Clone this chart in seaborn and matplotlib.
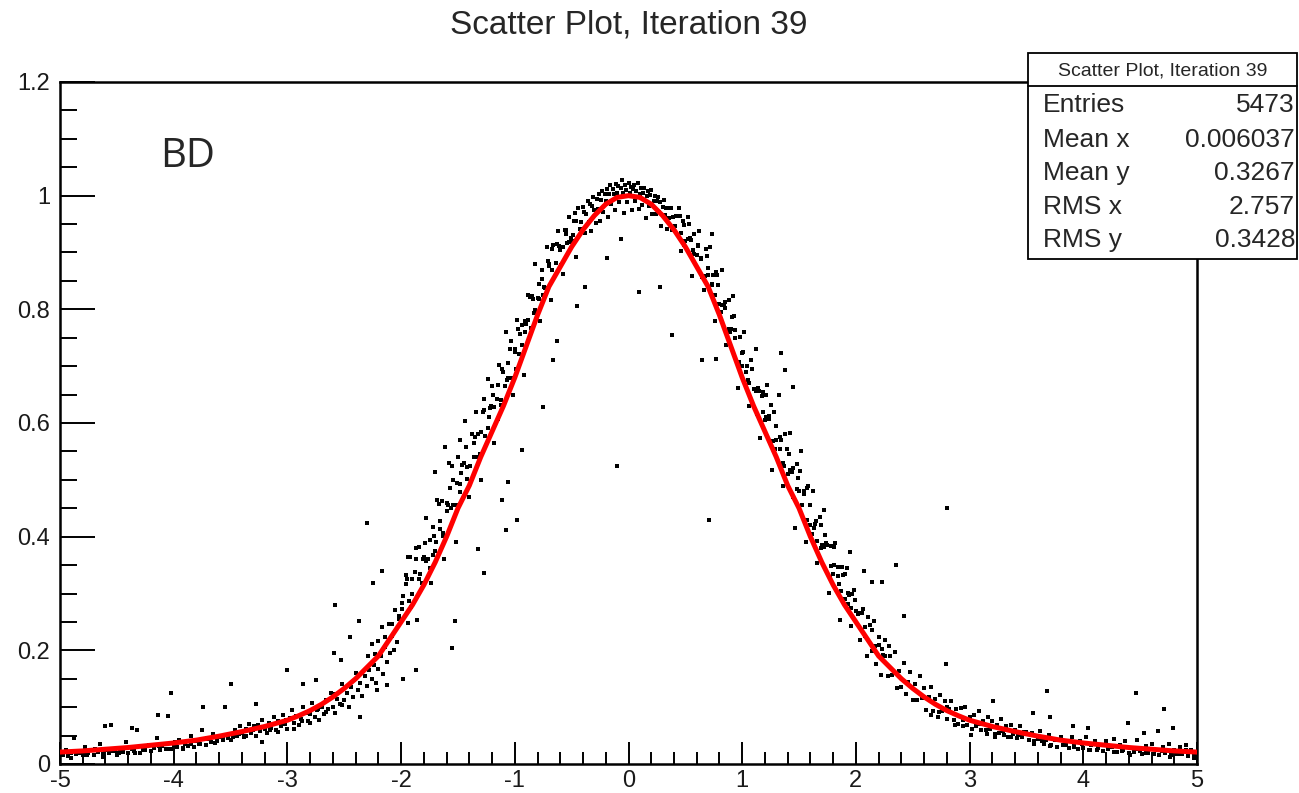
import matplotlib
matplotlib.use("Agg")
import numpy as np
import pandas as pd
import matplotlib.pyplot as plt
import seaborn as sns
from matplotlib.patches import Rectangle
from matplotlib.lines import Line2D
from matplotlib.ticker import MultipleLocator, FuncFormatter

# ---- text ----
title = "Scatter Plot, Iteration 39"
stats_labels = ["Entries", "Mean x", "Mean y", "RMS x", "RMS y"]
stats_values = ["5473", "0.006037", "0.3267", "2.757", "0.3428"]
corner_label = "BD"

# ---- red fitted curve ----
curve_x = [-5.0, -4.8, -4.6, -4.4, -4.2, -4.0, -3.8, -3.6, -3.4, -3.2, -3.0,
           -2.9, -2.8, -2.7, -2.6, -2.5, -2.4, -2.3, -2.2, -2.1, -2.0,
           -1.9, -1.8, -1.7, -1.6, -1.5, -1.4, -1.3, -1.2, -1.1, -1.0,
           -0.9, -0.8, -0.7, -0.6, -0.5, -0.4, -0.3, -0.2, -0.1, 0.0,
           0.1, 0.2, 0.3, 0.4, 0.5, 0.6, 0.7, 0.8, 0.9, 1.0,
           1.1, 1.2, 1.3, 1.4, 1.5, 1.6, 1.7, 1.8, 1.9, 2.0,
           2.1, 2.2, 2.3, 2.4, 2.5, 2.6, 2.7, 2.8, 2.9, 3.0,
           3.2, 3.4, 3.6, 3.8, 4.0, 4.2, 4.4, 4.6, 4.8, 5.0]
curve_y = [0.021, 0.023, 0.026, 0.029, 0.033, 0.037, 0.042, 0.049, 0.057, 0.066, 0.077,
           0.085, 0.094, 0.105, 0.118, 0.133, 0.150, 0.170, 0.190, 0.220, 0.250,
           0.280, 0.315, 0.355, 0.400, 0.450, 0.490, 0.540, 0.585, 0.630, 0.680,
           0.735, 0.790, 0.840, 0.875, 0.910, 0.940, 0.965, 0.985, 0.997, 1.000,
           0.997, 0.985, 0.965, 0.940, 0.910, 0.875, 0.840, 0.790, 0.735, 0.680,
           0.630, 0.585, 0.540, 0.490, 0.450, 0.400, 0.355, 0.315, 0.280, 0.250,
           0.220, 0.190, 0.170, 0.150, 0.133, 0.118, 0.105, 0.094, 0.085, 0.077,
           0.066, 0.057, 0.049, 0.042, 0.037, 0.033, 0.029, 0.026, 0.023, 0.021]

# ---- scatter points, estimated region by region ----
tail_left_x = [-4.98, -4.95, -4.93, -4.90, -4.88, -4.86, -4.83, -4.80, -4.78, -4.75,
               -4.72, -4.70, -4.67, -4.65, -4.62, -4.60, -4.57, -4.55, -4.52, -4.50,
               -4.47, -4.45, -4.42, -4.40, -4.37, -4.35, -4.32, -4.30, -4.27, -4.25,
               -4.22, -4.20, -4.17, -4.15, -4.12, -4.10, -4.07, -4.05, -4.02, -4.00,
               -3.97, -3.95, -3.92, -3.90, -3.87, -3.85, -3.82, -3.80, -3.77, -3.75,
               -3.72, -3.70, -3.67, -3.65, -3.62, -3.60, -3.57, -3.55, -3.52,
               -4.97, -4.90, -4.83, -4.76, -4.69, -4.62, -4.55, -4.48, -4.41, -4.34,
               -4.27, -4.20, -4.13, -4.06, -3.99, -3.92, -3.85, -3.78, -3.71, -3.64,
               -3.57, -3.50, -3.43, -3.36, -3.29, -3.22, -3.15, -3.08, -3.01, -2.94,
               -2.87, -2.80, -2.73, -2.66, -2.59, -2.52]
tail_left_y = [0.018, 0.024, 0.014, 0.020, 0.045, 0.017, 0.022, 0.015, 0.030, 0.019,
               0.024, 0.016, 0.021, 0.035, 0.018, 0.025, 0.020, 0.068, 0.022, 0.016,
               0.027, 0.021, 0.038, 0.019, 0.026, 0.023, 0.060, 0.020, 0.029, 0.025,
               0.033, 0.022, 0.028, 0.045, 0.024, 0.031, 0.027, 0.085, 0.026, 0.034,
               0.030, 0.042, 0.028, 0.036, 0.032, 0.050, 0.030, 0.040, 0.035, 0.060,
               0.033, 0.044, 0.038, 0.052, 0.040, 0.048, 0.042, 0.100, 0.045,
               0.015, 0.011, 0.020, 0.015, 0.027, 0.013, 0.022, 0.020, 0.029, 0.020,
               0.025, 0.022, 0.031, 0.027, 0.039, 0.026, 0.036, 0.035, 0.045, 0.037,
               0.044, 0.042, 0.053, 0.050, 0.066, 0.039, 0.059, 0.057, 0.077, 0.061,
               0.076, 0.072, 0.096, 0.092, 0.124, 0.104]

low_left_x = [-3.48, -3.46, -3.44, -3.42, -3.40, -3.38, -3.36, -3.34, -3.32, -3.30,
              -3.28, -3.26, -3.24, -3.22, -3.20, -3.18, -3.16, -3.14, -3.12, -3.10,
              -3.08, -3.06, -3.04, -3.02, -3.00, -2.98, -2.96, -2.94, -2.92, -2.90,
              -2.88, -2.86, -2.84, -2.82, -2.80, -2.78, -2.76, -2.74, -2.72, -2.70,
              -2.68, -2.66, -2.64, -2.62, -2.60, -2.58, -2.56, -2.54, -2.52, -2.50,
              -2.48, -2.46, -2.44, -2.42, -2.40, -2.38, -2.36, -2.34, -2.32, -2.30,
              -2.28, -2.26, -2.24, -2.22, -2.20, -2.18, -2.16, -2.14, -2.12, -2.10,
              -2.08, -2.06, -2.04, -2.02]
low_left_y = [0.048, 0.060, 0.050, 0.066, 0.055, 0.047, 0.062, 0.071, 0.054, 0.060,
              0.050, 0.069, 0.058, 0.078, 0.062, 0.055, 0.072, 0.064, 0.083, 0.060,
              0.076, 0.066, 0.087, 0.070, 0.062, 0.081, 0.095, 0.072, 0.084, 0.068,
              0.079, 0.100, 0.090, 0.075, 0.088, 0.108, 0.083, 0.095, 0.078, 0.100,
              0.088, 0.112, 0.097, 0.125, 0.100, 0.090, 0.115, 0.105, 0.140, 0.112,
              0.125, 0.100, 0.135, 0.118, 0.160, 0.130, 0.142, 0.120, 0.155, 0.138,
              0.165, 0.150, 0.175, 0.142, 0.168, 0.190, 0.158, 0.205, 0.180, 0.195,
              0.225, 0.200, 0.215, 0.260]

up_left_x = [-1.98, -1.96, -1.94, -1.92, -1.90, -1.88, -1.86, -1.84, -1.82, -1.80,
             -1.78, -1.76, -1.74, -1.72, -1.70, -1.68, -1.66, -1.64, -1.62, -1.60,
             -1.58, -1.56, -1.54, -1.52, -1.50, -1.48, -1.46, -1.44, -1.42, -1.40,
             -1.38, -1.36, -1.34, -1.32, -1.30, -1.28, -1.26, -1.24, -1.22, -1.20,
             -1.18, -1.16, -1.14, -1.12, -1.10, -1.08, -1.06, -1.04, -1.02, -1.00,
             -0.98, -0.96, -0.94, -0.92, -0.90, -0.88, -0.86, -0.84, -0.82, -0.80,
             -0.78, -0.76, -0.74, -0.72, -0.70, -0.68, -0.66, -0.64, -0.62, -0.60,
             -0.58, -0.56, -0.54, -0.52, -0.50, -0.48, -0.46, -0.44, -0.42, -0.40,
             -1.99, -1.95, -1.91, -1.87, -1.83, -1.79, -1.75, -1.71, -1.67, -1.63,
             -1.59, -1.55, -1.51, -1.47, -1.43, -1.39, -1.35, -1.31, -1.27, -1.23,
             -1.19, -1.15, -1.11, -1.07, -1.03, -0.99, -0.95, -0.91, -0.87, -0.83,
             -0.79, -0.75, -0.71, -0.67, -0.63, -0.59, -0.55, -0.51, -0.47, -0.43]
up_left_y = [0.296, 0.332, 0.248, 0.364, 0.300, 0.337, 0.254, 0.381, 0.318, 0.365,
             0.433, 0.361, 0.319, 0.417, 0.375, 0.464, 0.413, 0.462, 0.361, 0.460,
             0.530, 0.450, 0.500, 0.390, 0.540, 0.478, 0.526, 0.604, 0.522, 0.470,
             0.580, 0.540, 0.620, 0.580, 0.500, 0.619, 0.578, 0.677, 0.626, 0.665,
             0.564, 0.643, 0.702, 0.631, 0.690, 0.760, 0.680, 0.730, 0.650, 0.730,
             0.781, 0.722, 0.773, 0.684, 0.775, 0.826, 0.767, 0.818, 0.879, 0.820,
             0.780, 0.870, 0.840, 0.910, 0.880, 0.817, 0.914, 0.881, 0.938, 0.905,
             0.862, 0.939, 0.916, 0.963, 0.920, 0.956, 0.892, 0.978, 0.954, 0.980,
             0.273, 0.325, 0.277, 0.380, 0.335, 0.389, 0.345, 0.401, 0.458, 0.406,
             0.455, 0.525, 0.455, 0.512, 0.558, 0.525, 0.575, 0.545, 0.643, 0.611,
             0.649, 0.607, 0.695, 0.675, 0.745, 0.695, 0.757, 0.760, 0.821, 0.793,
             0.845, 0.825, 0.885, 0.870, 0.915, 0.878, 0.932, 0.926, 0.969, 0.941]

outer_left_x = [-2.29, -2.26, -2.23, -2.20, -2.17, -2.14, -2.11, -2.08, -2.05, -2.02,
                -1.99, -1.96, -1.93, -1.90, -1.87, -1.84, -1.81, -1.78, -1.75, -1.72,
                -1.69, -1.66, -1.63, -1.60, -1.57, -1.54, -1.51, -1.48, -1.45, -1.42,
                -1.39, -1.36, -1.33, -1.30, -1.27, -1.24, -1.21, -1.18, -1.15, -1.12,
                -1.09, -1.06, -1.03, -1.00, -0.97, -0.94, -0.91, -0.88, -0.85, -0.82,
                -0.79, -0.76, -0.73, -0.70, -0.67, -0.64, -0.61, -0.58, -0.55, -0.52,
                -0.49, -0.46]
outer_left_y = [0.190, 0.211, 0.193, 0.217, 0.241, 0.223, 0.247, 0.247, 0.271, 0.256,
                0.283, 0.317, 0.286, 0.325, 0.360, 0.326, 0.361, 0.358, 0.395, 0.367,
                0.390, 0.428, 0.401, 0.445, 0.485, 0.455, 0.495, 0.493, 0.530, 0.502,
                0.525, 0.565, 0.540, 0.585, 0.623, 0.592, 0.630, 0.629, 0.667, 0.641,
                0.665, 0.705, 0.680, 0.725, 0.766, 0.738, 0.780, 0.781, 0.823, 0.799,
                0.819, 0.854, 0.837, 0.876, 0.906, 0.881, 0.911, 0.910, 0.940, 0.919,
                0.931, 0.955]

peak_x = [-0.39, -0.38, -0.37, -0.36, -0.35, -0.34, -0.33, -0.32, -0.31, -0.30,
          -0.29, -0.28, -0.27, -0.26, -0.25, -0.24, -0.23, -0.22, -0.21, -0.20,
          -0.19, -0.18, -0.17, -0.16, -0.15, -0.14, -0.13, -0.12, -0.11, -0.10,
          -0.09, -0.08, -0.07, -0.06, -0.05, -0.04, -0.03, -0.02, -0.01, 0.00,
          0.01, 0.02, 0.03, 0.04, 0.05, 0.06, 0.07, 0.08, 0.09, 0.10,
          0.11, 0.12, 0.13, 0.14, 0.15, 0.16, 0.17, 0.18, 0.19, 0.20,
          0.21, 0.22, 0.23, 0.24, 0.25, 0.26, 0.27, 0.28, 0.29, 0.30,
          0.31, 0.32, 0.33, 0.34, 0.35, 0.36, 0.37, 0.38, 0.39]
peak_y = [0.972, 0.935, 0.968, 0.991, 0.953, 0.986, 0.938, 0.981, 0.998, 0.975,
          0.952, 0.994, 0.976, 1.003, 0.955, 0.992, 1.009, 0.971, 1.003, 0.990,
          1.011, 0.962, 1.003, 1.019, 0.985, 1.012, 1.003, 0.974, 1.020, 1.005,
          1.017, 0.988, 1.013, 1.027, 1.004, 0.970, 1.018, 1.010, 0.988, 1.022,
          1.005, 1.015, 0.975, 1.012, 1.019, 0.991, 1.008, 1.023, 0.977, 1.003,
          1.013, 0.984, 1.005, 1.014, 0.960, 0.999, 1.008, 0.982, 1.001, 1.010,
          0.968, 0.991, 0.999, 0.967, 0.990, 0.998, 0.971, 0.989, 0.947, 0.980,
          0.993, 0.966, 0.978, 0.941, 0.978, 0.961, 0.978, 0.940, 0.962]

up_right_x = [0.42, 0.44, 0.46, 0.48, 0.50, 0.52, 0.54, 0.56, 0.58, 0.60,
              0.62, 0.64, 0.66, 0.68, 0.70, 0.72, 0.74, 0.76, 0.78, 0.80,
              0.82, 0.84, 0.86, 0.88, 0.90, 0.92, 0.94, 0.96, 0.98, 1.00,
              1.02, 1.04, 1.06, 1.08, 1.10, 1.12, 1.14, 1.16, 1.18, 1.20,
              1.22, 1.24, 1.26, 1.28, 1.30, 1.32, 1.34, 1.36, 1.38, 1.40,
              1.42, 1.44, 1.46, 1.48, 1.50, 1.52, 1.54, 1.56, 1.58, 1.60,
              1.62, 1.64, 1.66, 1.68, 1.70, 1.72, 1.74, 1.76, 1.78, 1.80,
              1.82, 1.84, 1.86, 1.88, 1.90, 1.92, 1.94, 1.96, 1.98, 2.00,
              0.41, 0.45, 0.49, 0.53, 0.57, 0.61, 0.65, 0.69, 0.73, 0.77,
              0.81, 0.85, 0.89, 0.93, 0.97, 1.01, 1.05, 1.09, 1.13, 1.17,
              1.21, 1.25, 1.29, 1.33, 1.37, 1.41, 1.45, 1.49, 1.53, 1.57,
              1.61, 1.65, 1.69, 1.73, 1.77, 1.81, 1.85, 1.89, 1.93, 1.97]
up_right_y = [0.964, 0.978, 0.902, 0.956, 0.920, 0.963, 0.926, 0.859, 0.932, 0.895,
              0.938, 0.891, 0.834, 0.907, 0.860, 0.910, 0.860, 0.780, 0.860, 0.810,
              0.869, 0.808, 0.737, 0.816, 0.765, 0.824, 0.763, 0.662, 0.751, 0.700,
              0.760, 0.700, 0.630, 0.710, 0.660, 0.731, 0.662, 0.573, 0.654, 0.605,
              0.666, 0.607, 0.518, 0.619, 0.570, 0.650, 0.570, 0.490, 0.580, 0.510,
              0.582, 0.514, 0.416, 0.528, 0.480, 0.550, 0.480, 0.390, 0.490, 0.420,
              0.481, 0.422, 0.353, 0.434, 0.385, 0.447, 0.389, 0.301, 0.383, 0.335,
              0.388, 0.331, 0.254, 0.347, 0.290, 0.344, 0.298, 0.242, 0.306, 0.270,
              0.947, 0.965, 0.913, 0.950, 0.905, 0.911, 0.857, 0.893, 0.845, 0.865,
              0.795, 0.813, 0.760, 0.788, 0.706, 0.725, 0.675, 0.695, 0.616, 0.648,
              0.610, 0.632, 0.554, 0.575, 0.525, 0.546, 0.470, 0.504, 0.455, 0.485,
              0.405, 0.427, 0.380, 0.403, 0.327, 0.351, 0.317, 0.333, 0.281, 0.299]

outer_right_x = [0.46, 0.49, 0.52, 0.55, 0.58, 0.61, 0.64, 0.67, 0.70, 0.73,
                 0.76, 0.79, 0.82, 0.85, 0.88, 0.91, 0.94, 0.97, 1.00, 1.03,
                 1.06, 1.09, 1.12, 1.15, 1.18, 1.21, 1.24, 1.27, 1.30, 1.33,
                 1.36, 1.39, 1.42, 1.45, 1.48, 1.51, 1.54, 1.57, 1.60, 1.63,
                 1.66, 1.69, 1.72, 1.75, 1.78, 1.81, 1.84, 1.87, 1.90, 1.93,
                 1.96, 1.99, 2.02, 2.05, 2.08, 2.11, 2.14, 2.17, 2.20, 2.23,
                 2.26, 2.29]
outer_right_y = [0.934, 0.949, 0.924, 0.922, 0.897, 0.913, 0.888, 0.859, 0.873, 0.843,
                 0.826, 0.843, 0.807, 0.803, 0.766, 0.786, 0.749, 0.708, 0.724, 0.689,
                 0.670, 0.695, 0.656, 0.657, 0.619, 0.650, 0.612, 0.568, 0.595, 0.555,
                 0.530, 0.555, 0.517, 0.520, 0.483, 0.515, 0.475, 0.430, 0.455, 0.416,
                 0.393, 0.420, 0.382, 0.385, 0.348, 0.381, 0.346, 0.305, 0.335, 0.301,
                 0.274, 0.289, 0.265, 0.265, 0.241, 0.259, 0.235, 0.208, 0.223, 0.202,
                 0.190, 0.208]

low_right_x = [2.02, 2.04, 2.06, 2.08, 2.10, 2.12, 2.14, 2.16, 2.18, 2.20,
               2.22, 2.24, 2.26, 2.28, 2.30, 2.32, 2.34, 2.36, 2.38, 2.40,
               2.42, 2.44, 2.46, 2.48, 2.50, 2.52, 2.54, 2.56, 2.58, 2.60,
               2.62, 2.64, 2.66, 2.68, 2.70, 2.72, 2.74, 2.76, 2.78, 2.80,
               2.82, 2.84, 2.86, 2.88, 2.90, 2.92, 2.94, 2.96, 2.98, 3.00,
               3.02, 3.04, 3.06, 3.08, 3.10, 3.12, 3.14, 3.16, 3.18, 3.20,
               3.22, 3.24, 3.26, 3.28, 3.30, 3.32, 3.34, 3.36, 3.38, 3.40,
               3.42, 3.44, 3.46, 3.48]
low_right_y = [0.264, 0.218, 0.272, 0.226, 0.190, 0.244, 0.198, 0.252, 0.176, 0.210,
               0.156, 0.192, 0.218, 0.154, 0.190, 0.156, 0.197, 0.133, 0.164, 0.135,
               0.177, 0.123, 0.145, 0.161, 0.113, 0.140, 0.112, 0.154, 0.116, 0.133,
               0.095, 0.118, 0.135, 0.093, 0.115, 0.083, 0.121, 0.093, 0.111, 0.079,
               0.097, 0.110, 0.078, 0.097, 0.070, 0.098, 0.077, 0.100, 0.069, 0.082,
               0.061, 0.087, 0.066, 0.093, 0.059, 0.076, 0.059, 0.083, 0.061, 0.076,
               0.053, 0.068, 0.055, 0.080, 0.051, 0.066, 0.048, 0.069, 0.052, 0.060,
               0.046, 0.067, 0.048, 0.057]

tail_right_x = [3.52, 3.55, 3.57, 3.60, 3.62, 3.65, 3.67, 3.70, 3.72, 3.75,
                3.77, 3.80, 3.82, 3.85, 3.87, 3.90, 3.92, 3.95, 3.97, 4.00,
                4.02, 4.05, 4.07, 4.10, 4.12, 4.15, 4.17, 4.20, 4.22, 4.25,
                4.27, 4.30, 4.32, 4.35, 4.37, 4.40, 4.42, 4.45, 4.47, 4.50,
                4.52, 4.55, 4.57, 4.60, 4.62, 4.65, 4.67, 4.70, 4.72, 4.75,
                4.77, 4.80, 4.82, 4.85, 4.87, 4.90, 4.92, 4.95, 4.97,
                2.52, 2.59, 2.66, 2.73, 2.80, 2.87, 2.94, 3.01, 3.08, 3.15,
                3.22, 3.29, 3.36, 3.43, 3.50, 3.57, 3.64, 3.71, 3.78, 3.85,
                3.92, 3.99, 4.06, 4.13, 4.20, 4.27, 4.34, 4.41, 4.48, 4.55,
                4.62, 4.69, 4.76, 4.83, 4.90, 4.97]
tail_right_y = [0.042, 0.055, 0.036, 0.044, 0.058, 0.035, 0.043, 0.051, 0.034, 0.043,
                0.030, 0.047, 0.033, 0.041, 0.028, 0.047, 0.033, 0.026, 0.040, 0.029,
                0.047, 0.024, 0.034, 0.041, 0.025, 0.034, 0.022, 0.041, 0.027, 0.030,
                0.044, 0.021, 0.033, 0.024, 0.040, 0.019, 0.029, 0.021, 0.043, 0.023,
                0.017, 0.031, 0.020, 0.036, 0.017, 0.025, 0.015, 0.030, 0.019, 0.036,
                0.015, 0.025, 0.017, 0.030, 0.018, 0.034, 0.014, 0.024, 0.017,
                0.112, 0.116, 0.086, 0.092, 0.100, 0.068, 0.067, 0.051, 0.071, 0.053,
                0.047, 0.058, 0.047, 0.051, 0.056, 0.040, 0.040, 0.032, 0.042, 0.033,
                0.030, 0.035, 0.024, 0.029, 0.036, 0.021, 0.023, 0.016, 0.027, 0.019,
                0.017, 0.023, 0.012, 0.018, 0.025, 0.011]

stray_x = [-4.02, -3.50, -3.00, -4.14, -3.74, -4.60, -4.37, -3.28, -2.86, -0.10,
           0.71, 0.09, 0.38, -2.30, 2.80, 4.46, 4.71, 2.79, 2.35, 2.42,
           2.14, 2.23, 2.07, 1.95, 3.68, 4.39, 4.79, 3.21, 3.56, 3.71,
           4.04, 3.91, 4.53, 4.66, -0.19, -0.38, -0.45, -0.66, -0.63, 0.28,
           0.65, 0.77, 0.73, 1.45, 1.38, 1.34, -0.07, -1.08, -0.98, -2.58,
           -2.37, -1.53, -1.55, -1.27, -1.32, -1.11, -1.06, -0.94, -0.75, -1.70,
           -1.61, -1.48, -2.17, -2.25, -1.94, -2.59, -2.45, -1.87, -1.98, -2.75,
           -2.53, -2.36, -2.21, -2.12]
stray_y = [0.125, 0.140, 0.165, 0.086, 0.100, 0.067, 0.064, 0.105, 0.140, 0.525,
           0.430, 0.830, 0.755, 0.424, 0.450, 0.125, 0.097, 0.176, 0.350, 0.260,
           0.320, 0.320, 0.340, 0.373, 0.129, 0.072, 0.064, 0.110, 0.090, 0.083,
           0.064, 0.067, 0.054, 0.058, 0.890, 0.840, 0.805, 0.710, 0.745, 0.840,
           0.710, 0.713, 0.933, 0.664, 0.694, 0.723, 0.924, 0.412, 0.430, 0.280,
           0.252, 0.252, 0.204, 0.336, 0.378, 0.465, 0.497, 0.553, 0.628, 0.514,
           0.558, 0.570, 0.340, 0.318, 0.365, 0.195, 0.224, 0.165, 0.150, 0.148,
           0.183, 0.083, 0.130, 0.139]

groups = [(tail_left_x, tail_left_y), (low_left_x, low_left_y),
          (up_left_x, up_left_y), (outer_left_x, outer_left_y),
          (peak_x, peak_y), (up_right_x, up_right_y),
          (outer_right_x, outer_right_y), (low_right_x, low_right_y),
          (tail_right_x, tail_right_y), (stray_x, stray_y)]
dots = pd.DataFrame({
    "x": np.concatenate([g[0] for g in groups]),
    "y": np.concatenate([g[1] for g in groups]),
})
curve = pd.DataFrame({"x": curve_x, "y": curve_y})

# ---- style ----
sns.set_style("ticks")
plt.rcParams["font.family"] = ["Liberation Sans", "DejaVu Sans"]
plt.rcParams["axes.unicode_minus"] = False

W, H = 1299, 793
fig = plt.figure(figsize=(W / 100, H / 100), dpi=100)
ax = fig.add_axes([60 / W, 29 / H, 1137 / W, 682 / H])

sns.scatterplot(data=dots, x="x", y="y", ax=ax, color="black", s=9,
                linewidth=0, marker="s", zorder=2)
sns.lineplot(data=curve, x="x", y="y", ax=ax, color="#ff0000", linewidth=3.6,
             sort=False, estimator=None, zorder=3)

ax.set_xlim(-5, 5)
ax.set_ylim(0, 1.2)
ax.set_xlabel("")
ax.set_ylabel("")
ax.xaxis.set_major_locator(MultipleLocator(1))
ax.xaxis.set_minor_locator(MultipleLocator(0.2))
ax.yaxis.set_major_locator(MultipleLocator(0.2))
ax.yaxis.set_minor_locator(MultipleLocator(0.05))
ax.yaxis.set_major_formatter(FuncFormatter(lambda v, p: "%g" % round(v, 2)))
ax.xaxis.set_major_formatter(FuncFormatter(lambda v, p: "%g" % round(v, 2)))

ax.tick_params(which="both", direction="in", top=False, right=False,
               width=1.4, color="black", labelcolor="#1a1a1a")
ax.tick_params(axis="x", which="major", length=16, labelsize=17, pad=4)
ax.tick_params(axis="x", which="minor", length=8.5)
ax.tick_params(axis="y", which="major", length=25, labelsize=17, pad=7)
ax.tick_params(axis="y", which="minor", length=12)
for sp in ax.spines.values():
    sp.set_visible(True)
    sp.set_linewidth(1.8)
    sp.set_color("black")

# title
fig.text(628.5 / W, 1 - 25 / H, title, ha="center", va="center", fontsize=24)

# label in the corner
fig.text(160 / W, 1 - 157 / H, corner_label, ha="left", va="center",
         fontsize=29, family=["Open Sans", "DejaVu Sans"])

# stats box
bx0, bx1, by0, by1 = 1028, 1297, 53, 259
fig.add_artist(Rectangle((bx0 / W, 1 - by1 / H), (bx1 - bx0) / W, (by1 - by0) / H,
                         transform=fig.transFigure, facecolor="white",
                         edgecolor="black", linewidth=1.3, zorder=10))
fig.add_artist(Line2D([bx0 / W, bx1 / W], [1 - 86 / H, 1 - 86 / H],
                      transform=fig.transFigure, color="black", linewidth=1.3,
                      zorder=11))
fig.text((bx0 + bx1) / 2 / W, 1 - 71 / H, title, ha="center", va="center",
         fontsize=14, zorder=12)
row_y = [105, 140, 173, 207, 240]
for lab, val, ry in zip(stats_labels, stats_values, row_y):
    fig.text(1043 / W, 1 - ry / H, lab, ha="left", va="center", fontsize=19, zorder=12)
    fig.text(1295 / W, 1 - ry / H, val, ha="right", va="center", fontsize=19, zorder=12)

fig.savefig("out.png", dpi=100)
